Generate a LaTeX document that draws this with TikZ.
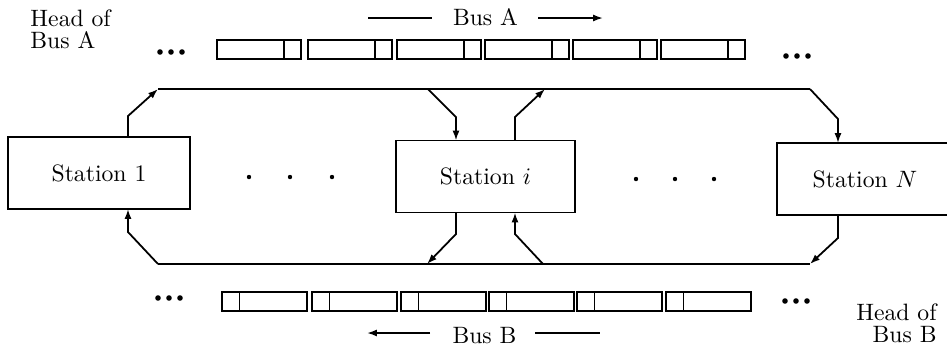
\documentclass[tikz,border=0pt]{standalone}
\usetikzlibrary{arrows.meta}
\begin{document}
\begin{tikzpicture}[x=0.4222pt,y=-0.4222pt,
  ln/.style={line width=0.75pt},
  arr/.style={line width=0.75pt,-{Latex[length=4.2pt,width=3pt]}},
  station/.style={draw,line width=0.75pt,inner sep=0pt,outer sep=0pt,
    minimum height=30.4pt,font=\fontsize{10}{12}\selectfont},
  lbl/.style={inner sep=0pt,font=\fontsize{10}{9.2}\selectfont},
  bigdot/.style={fill=black},
]
\useasboundingbox (0,0) rectangle (947,349);

% stations
\node[station,minimum width=76.8pt] (s1) at (99,173) {Station 1};
\node[station,minimum width=75.6pt] (si) at (485.5,176.5) {Station $i$};
\node[station,minimum width=74.3pt] (sN) at (865,179) {Station $N$};

% bus lines
\coordinate (A1) at (158,89);
\coordinate (A2) at (810,89);
\coordinate (B1) at (158,264);
\coordinate (B2) at (810,264);
\draw[ln] (A1) -- (A2);
\draw[ln] (B1) -- (B2);

% station 1
\coordinate (s1t) at (128,116);
\coordinate (s1b) at (128,232);
\draw[arr] (s1.north -| s1t) -- (s1t) -- (A1);
\draw[arr] (B1) -- (s1b) -- (s1.south -| s1b);

% station N
\coordinate (sNt) at (838,119);
\coordinate (sNb) at (838,238);
\draw[arr] (A2) -- (sNt) -- (sN.north -| sNt);
\draw[arr] (sN.south -| sNb) -- (sNb) -- (B2);

% station i
\coordinate (ia) at (428,89);
\coordinate (ib) at (456,117);
\coordinate (ic) at (515,117);
\coordinate (id) at (545,89);
\coordinate (ie) at (456,234);
\coordinate (if) at (427,264);
\coordinate (ig) at (515,234);
\coordinate (ih) at (543,264);
\draw[arr] (ia) -- (ib) -- (si.north -| ib);
\draw[arr] (si.north -| ic) -- (ic) -- (id);
\draw[arr] (si.south -| ie) -- (ie) -- (if);
\draw[arr] (ih) -- (ig) -- (si.south -| ig);

% cells of bus A
\foreach \s in {217,308,397,485,573,661}{
  \draw[ln] (\s,40) rectangle (\s+84,59);
  \draw[ln] (\s+67,40) -- (\s+67,59);
}
% cells of bus B
\foreach \s in {222,312,401,489,577,666}{
  \draw[ln] (\s,292) rectangle (\s+85,311);
  \draw[ln] (\s+17.5,292) -- (\s+17.5,311);
}

% big dots
\foreach \x/\y in {160/52,171/52,182/52, 786/56,797/56,808/56,
                   158/298,169/298,180/298, 785/301,796/301,807/301}{
  \fill[bigdot] (\x,\y) circle[radius=2.8];
}
% middle dots
\foreach \x/\y in {249/177,290/177,332/177, 636/179,675/179,714/179}{
  \fill[bigdot] (\x,\y) circle[radius=2.2];
}

% head labels
\node[lbl,anchor=north west,align=left] (headA) at (30,9.6) {Head of\\Bus A};
\node[lbl,anchor=south east,align=right] (headB) at (937,343) {Head of\\Bus B};

% bus direction labels
\node[lbl,anchor=base] (busA) at (485.5,25) {Bus A};
\coordinate (aL1) at (368,18);
\coordinate (aL2) at (432,18);
\coordinate (aR1) at (538,18);
\coordinate (aR2) at (603,18);
\draw[ln] (aL1) -- (aL2);
\draw[arr] (aR1) -- (aR2);

\node[lbl,anchor=base] (busB) at (484.5,343) {Bus B};
\coordinate (bL1) at (367,333);
\coordinate (bL2) at (430,333);
\coordinate (bR1) at (535,333);
\coordinate (bR2) at (600,333);
\draw[arr] (bL2) -- (bL1);
\draw[ln] (bR1) -- (bR2);
\end{tikzpicture}
\end{document}
